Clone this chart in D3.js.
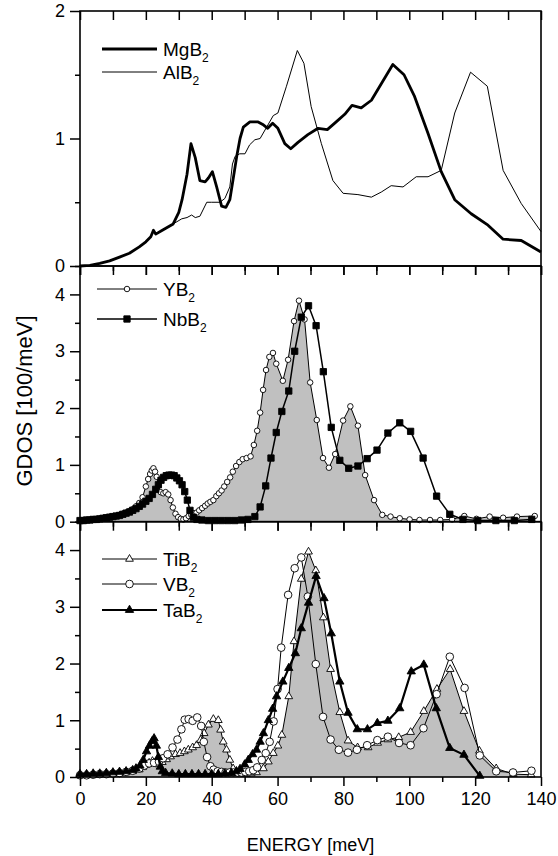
<!DOCTYPE html>
<html>
<head>
<meta charset="utf-8">
<script src="https://cdn.jsdelivr.net/npm/d3@7"></script>
<style>
  body { margin: 0; background: #fff; }
  text { font-family: "Liberation Sans", Arial, sans-serif; fill: #000; }
</style>
</head>
<body>
<script>
// energy [meV], GDOS pairs
var mgB2 = [[0,0],[3,0.005],[6,0.02],[9,0.04],[12,0.07],[15,0.1],[18,0.15],[20,0.19],[21.5,0.23],[22.3,0.28],[23,0.25],[25,0.28],[28.3,0.33],[30,0.42],[31,0.52],[32.5,0.72],[33.7,0.96],[35,0.85],[36.4,0.67],[38,0.66],[39,0.69],[40.2,0.74],[41.5,0.62],[43,0.47],[44.3,0.46],[45.5,0.52],[46.5,0.68],[47.6,0.86],[48.6,1.0],[49.6,1.09],[51.6,1.13],[54.1,1.13],[55.5,1.11],[57,1.08],[58.5,1.12],[60.1,1.08],[62.2,0.96],[64,0.92],[66.2,0.97],[69.2,1.03],[72.3,1.08],[75.1,1.07],[77.8,1.13],[80.4,1.19],[82.6,1.26],[85.4,1.24],[88.5,1.3],[91.5,1.43],[95,1.58],[98.4,1.5],[101.6,1.33],[105.7,1.04],[109.7,0.74],[113.8,0.52],[118.8,0.41],[123.9,0.32],[128.5,0.21],[134,0.2],[140,0.11]];
var alB2 = [[0,0],[3,0.005],[6,0.02],[9,0.04],[12,0.07],[15,0.1],[18,0.15],[20,0.19],[21.5,0.23],[22.3,0.27],[23,0.25],[25,0.28],[28.3,0.33],[30.9,0.37],[32.5,0.38],[33.9,0.4],[35,0.38],[36.4,0.39],[38.5,0.5],[40,0.5],[42.5,0.5],[44,0.53],[45.5,0.62],[46.3,0.8],[47.1,0.86],[48.5,0.88],[50.1,0.88],[51.5,0.95],[53.1,0.99],[54.7,1.0],[56.7,1.09],[58.7,1.18],[60.1,1.2],[62.7,1.41],[66,1.69],[68,1.59],[70.2,1.25],[73.3,0.96],[76.8,0.67],[79.9,0.57],[84.4,0.56],[88.5,0.54],[91.5,0.58],[94.5,0.63],[98.1,0.62],[102.1,0.7],[105.7,0.7],[109.7,0.75],[113.8,1.2],[118.6,1.52],[123.7,1.41],[128.5,0.75],[134,0.49],[140,0.27]];

var yB2 = [[0,0.02],[1,0.02],[2,0.03],[3,0.03],[4,0.04],[5,0.04],[6,0.05],[7,0.06],[8,0.07],[9,0.08],[10,0.09],[11,0.1],[12,0.12],[13,0.14],[14,0.16],[15,0.19],[16,0.22],[17,0.27],[18,0.33],[19,0.43],[20,0.62],[20.7,0.75],[21.3,0.84],[21.8,0.9],[22.3,0.94],[22.8,0.88],[23.3,0.79],[23.8,0.64],[24.5,0.52],[25.3,0.5],[26,0.52],[26.8,0.48],[27.5,0.38],[28.2,0.25],[29,0.14],[29.8,0.08],[30.6,0.05],[31.4,0.04],[32.2,0.06],[33,0.1],[33.8,0.12],[34.6,0.15],[35.4,0.16],[36.2,0.2],[37.1,0.24],[38,0.28],[38.8,0.32],[39.6,0.35],[40.5,0.38],[41.4,0.45],[42.2,0.5],[43,0.55],[43.8,0.62],[44.7,0.7],[45.6,0.78],[46.4,0.88],[47.4,0.98],[48.4,1.05],[49.4,1.1],[50.6,1.12],[51.8,1.15],[52.8,1.35],[53.8,1.6],[54.7,1.92],[55.6,2.32],[56.5,2.67],[57.5,2.9],[58.6,2.97],[59.6,2.78],[61.6,2.48],[63.2,2.85],[65,3.53],[66.5,3.89],[68.2,3.56],[69.9,2.45],[71.9,1.79],[73.8,1.12],[75.6,0.95],[77.5,1.19],[79.9,1.78],[82.1,2.03],[84.4,1.69],[86.6,0.82],[89.3,0.38],[91.8,0.12],[94.3,0.09],[97.1,0.06],[100.1,0.04],[103.1,0.03],[106.3,0.03],[109.4,0.03],[113,0.04],[116.7,0.1],[120.4,0.05],[124.4,0.09],[128.5,0.07],[132.7,0.09],[138.1,0.1]];
var nbB2 = [[0,0.02],[1,0.02],[2,0.03],[3,0.03],[4,0.04],[5,0.04],[6,0.05],[7,0.06],[8,0.07],[9,0.08],[10,0.09],[11,0.1],[12,0.11],[13,0.13],[14,0.15],[15,0.17],[16,0.2],[17,0.23],[18,0.27],[19,0.31],[20,0.36],[21,0.41],[22,0.48],[23,0.57],[23.8,0.65],[24.6,0.73],[25.4,0.78],[26.2,0.81],[27,0.82],[27.8,0.82],[28.6,0.81],[29.4,0.77],[30.2,0.72],[31,0.65],[31.8,0.53],[32.6,0.38],[33.4,0.2],[34.4,0.08],[35.5,0.04],[37,0.03],[39,0.02],[41,0.02],[43,0.02],[45,0.02],[47,0.02],[49,0.03],[51,0.04],[53.1,0.09],[54.7,0.26],[56.4,0.63],[58,1.12],[59.6,1.57],[61.3,1.94],[63.4,2.3],[65.2,3.0],[67.2,3.6],[69.4,3.8],[71.7,3.45],[73.9,2.64],[76.3,1.66],[78.9,1.08],[81.6,0.94],[84.4,0.98],[87.2,1.11],[90.2,1.26],[93.5,1.56],[97.1,1.74],[100.4,1.59],[104.2,1.12],[108.3,0.45],[112.3,0.13],[116.3,0.04],[120.8,0.02],[126.3,0.02],[131.9,0.02],[137.2,0.04]];

var tiB2 = [[0,0.03],[2,0.03],[4,0.04],[6,0.04],[8,0.05],[10,0.06],[12,0.07],[14,0.08],[16,0.1],[18,0.13],[19,0.17],[20,0.21],[21,0.25],[22,0.28],[23,0.25],[24,0.22],[25,0.26],[26.3,0.31],[27.5,0.36],[29,0.4],[30.4,0.42],[31.7,0.45],[32.9,0.48],[34.2,0.52],[35.4,0.56],[36.6,0.65],[37.7,0.77],[39,0.92],[40.5,1.02],[42,1.0],[42.7,0.83],[43.5,0.62],[44.5,0.48],[45.5,0.3],[46.5,0.15],[47.5,0.08],[49,0.06],[50.5,0.05],[52,0.06],[53.6,0.08],[55.7,0.15],[57.2,0.27],[58.7,0.42],[60.1,0.55],[61.3,0.74],[63.4,1.42],[65,2.39],[67.2,3.49],[69.4,3.97],[71.6,3.64],[73.9,2.81],[76.1,1.9],[78.9,1.14],[81.4,0.64],[84.3,0.52],[87.5,0.52],[90.4,0.6],[93.5,0.66],[96.8,0.7],[100.4,0.79],[104.4,1.16],[108.4,1.55],[112.4,1.9],[116.6,1.16],[121.3,0.46],[126.4,0.15],[131.6,0.05],[137,0.04]];
var vB2 = [[0,0.03],[2,0.03],[4,0.04],[6,0.05],[8,0.05],[10,0.06],[12,0.07],[14,0.09],[16,0.11],[18,0.15],[19.5,0.2],[21,0.24],[22.5,0.25],[24,0.27],[25.2,0.33],[26.6,0.4],[28.1,0.52],[29.6,0.66],[30.8,0.84],[31.8,1.01],[33,1.02],[34.2,0.99],[35.6,1.05],[36.8,0.9],[37.6,0.62],[38.6,0.35],[39.6,0.19],[40.6,0.13],[41.8,0.1],[43,0.09],[44.2,0.08],[45.4,0.08],[46.6,0.08],[47.8,0.08],[49,0.08],[50.2,0.09],[51.4,0.1],[52.6,0.12],[53.8,0.17],[55.2,0.3],[56.4,0.42],[57.6,0.62],[58.8,0.98],[60,1.55],[61.1,2.28],[63.2,3.21],[65.2,3.68],[67.2,3.87],[69.2,3.18],[71.6,1.99],[73.8,1.06],[76.1,0.66],[78.6,0.48],[81.4,0.43],[84.1,0.48],[87.2,0.56],[90.3,0.65],[93.5,0.71],[96.9,0.6],[100.4,0.56],[104.3,0.86],[108.3,1.46],[112.3,2.12],[116.8,1.57],[121.4,0.38],[126.4,0.1],[131.5,0.08],[137.1,0.11]];
var taB2 = [[0,0.05],[2,0.05],[4,0.06],[6,0.06],[8,0.07],[10,0.08],[12,0.09],[14,0.1],[16,0.12],[17,0.15],[18.2,0.2],[19.2,0.3],[20.2,0.45],[21.1,0.55],[21.9,0.63],[22.5,0.68],[23.2,0.55],[23.8,0.35],[24.4,0.18],[25,0.1],[26,0.07],[28,0.06],[30,0.05],[32,0.05],[34,0.05],[36,0.05],[38,0.05],[40,0.05],[42,0.05],[44,0.06],[46,0.07],[47.5,0.1],[48.6,0.14],[50,0.22],[51.1,0.3],[52.4,0.4],[53.6,0.48],[54.7,0.62],[55.7,0.77],[57.2,1.0],[58.5,1.2],[59.7,1.42],[61.6,1.68],[63.4,1.92],[65.4,2.18],[67.2,2.62],[69.4,3.07],[71.7,3.54],[74.1,3.15],[76.3,2.53],[78.9,1.68],[81.4,1.13],[84.2,0.84],[87.3,0.84],[90.3,0.95],[93.5,0.99],[97.1,1.21],[100.6,1.86],[104.4,1.98],[108.2,1.21],[112.3,0.51],[116.6,0.39],[121.4,0.02]];

var xTicks = [0, 20, 40, 60, 80, 100, 120, 140];
var xMinor = [10, 30, 50, 70, 90, 110, 130];
var yTicksTop = [0, 1, 2];
var yTicksLow = [0, 1, 2, 3, 4];

var width = 558, height = 856;
var svg = d3.select('body').append('svg')
    .attr('width', width)
    .attr('height', height);

var x = d3.scaleLinear().domain([0, 140]).range([80, 541]);

var panels = [
  { top: 11, bottom: 266, max: 2, ticks: yTicksTop },
  { top: 266, bottom: 521.7, max: 4.5, ticks: yTicksLow },
  { top: 521.7, bottom: 777, max: 4.5, ticks: yTicksLow }
];
panels.forEach(function(p) {
  p.y = d3.scaleLinear().domain([0, p.max]).range([p.bottom, p.top]);
});

// draw one series: optional grey fill, line, markers
function series(p, data, opt) {
  var g = svg.append('g');
  if (opt.fill) {
    g.append('path')
      .datum(data)
      .attr('fill', '#c0c0c0')
      .attr('d', d3.area()
        .x(function(d) { return x(d[0]); })
        .y0(p.y(0))
        .y1(function(d) { return p.y(d[1]); }));
  }
  g.append('path')
    .datum(data)
    .attr('fill', 'none')
    .attr('stroke', '#000')
    .attr('stroke-width', opt.lw)
    .attr('stroke-linejoin', 'round')
    .attr('d', d3.line()
      .x(function(d) { return x(d[0]); })
      .y(function(d) { return p.y(d[1]); }));
  if (opt.symbol) {
    g.selectAll('.m')
      .data(data)
      .enter().append('path')
      .attr('class', 'm')
      .attr('transform', function(d) { return 'translate(' + x(d[0]) + ',' + p.y(d[1]) + ')'; })
      .attr('d', d3.symbol().type(opt.symbol).size(opt.size))
      .attr('fill', opt.filled ? '#000' : '#fff')
      .attr('stroke', '#000')
      .attr('stroke-width', 0.9);
  }
}

// panel 1
series(panels[0], alB2, { lw: 1 });
series(panels[0], mgB2, { lw: 2.8 });
// panel 2
series(panels[1], yB2, { lw: 1, fill: true, symbol: d3.symbolCircle, size: 24 });
series(panels[1], nbB2, { lw: 1.5, symbol: d3.symbolSquare, size: 40, filled: true });
// panel 3
series(panels[2], tiB2, { lw: 1, fill: true, symbol: d3.symbolTriangle, size: 26 });
series(panels[2], vB2, { lw: 1, symbol: d3.symbolCircle, size: 46 });
series(panels[2], taB2, { lw: 2.2, symbol: d3.symbolTriangle, size: 30, filled: true });

// axes and frames
panels.forEach(function(p, i) {
  var minorY = d3.range(0.5, p.max + 0.01, 1);
  svg.append('g')
    .attr('transform', 'translate(80,0)')
    .call(d3.axisLeft(p.y).tickValues(p.ticks).tickSize(10).tickSizeOuter(0).tickPadding(5).tickFormat(d3.format('d')))
    .call(function(a) {
      a.select('.domain').remove();
      a.selectAll('line').attr('stroke-width', 1.5);
      a.selectAll('text').attr('font-size', 18).attr('font-family', '"Liberation Sans", Arial, sans-serif');
    });
  svg.append('g')
    .attr('transform', 'translate(80,0)')
    .call(d3.axisLeft(p.y).tickValues(minorY).tickSize(5).tickFormat(''))
    .call(function(a) {
      a.select('.domain').remove();
      a.selectAll('line').attr('stroke-width', 1.5);
    });
  // top ticks point inward
  svg.append('g')
    .attr('transform', 'translate(0,' + p.top + ')')
    .call(d3.axisTop(x).tickValues(xTicks.concat(xMinor)).tickSize(-9).tickFormat(''))
    .call(function(a) {
      a.select('.domain').remove();
      a.selectAll('line').attr('stroke-width', 1.5);
    });
  // bottom ticks point outward
  svg.append('g')
    .attr('transform', 'translate(0,' + p.bottom + ')')
    .call(d3.axisBottom(x).tickValues(xTicks).tickSize(9).tickPadding(6)
      .tickFormat(i === 2 ? d3.format('d') : ''))
    .call(function(a) {
      a.select('.domain').remove();
      a.selectAll('line').attr('stroke-width', 1.5);
      a.selectAll('text').attr('font-size', 18).attr('font-family', '"Liberation Sans", Arial, sans-serif');
    });
  svg.append('g')
    .attr('transform', 'translate(0,' + p.bottom + ')')
    .call(d3.axisBottom(x).tickValues(xMinor).tickSize(5).tickFormat(''))
    .call(function(a) {
      a.select('.domain').remove();
      a.selectAll('line').attr('stroke-width', 1.5);
    });
  svg.append('rect')
    .attr('x', x(0)).attr('y', p.top)
    .attr('width', x(140) - x(0)).attr('height', p.bottom - p.top)
    .attr('fill', 'none').attr('stroke', '#000').attr('stroke-width', 1.6);
});

// axis titles
svg.append('text')
  .attr('x', x(70)).attr('y', 851)
  .attr('text-anchor', 'middle').attr('font-size', 18)
  .text('ENERGY [meV]');
svg.append('text')
  .attr('transform', 'translate(32,401) rotate(-90)')
  .attr('text-anchor', 'middle').attr('font-size', 22)
  .text('GDOS [100/meV]');

// legends
function legendItem(ly, name, opt) {
  svg.append('line')
    .attr('x1', opt.x1).attr('x2', 157).attr('y1', ly).attr('y2', ly)
    .attr('stroke', '#000').attr('stroke-width', opt.lw);
  if (opt.symbol) {
    svg.append('path')
      .attr('transform', 'translate(' + ((opt.x1 + 157) / 2) + ',' + ly + ')')
      .attr('d', d3.symbol().type(opt.symbol).size(opt.size))
      .attr('fill', opt.filled ? '#000' : '#fff')
      .attr('stroke', '#000').attr('stroke-width', 0.9);
  }
  var t = svg.append('text')
    .attr('x', 163).attr('y', ly + 7)
    .attr('font-size', 19);
  t.append('tspan').text(name);
  t.append('tspan').attr('font-size', 12).attr('dy', 6).text('2');
}
legendItem(49, 'MgB', { x1: 102, lw: 2.8 });
legendItem(72, 'AlB', { x1: 102, lw: 1 });
legendItem(289, 'YB', { x1: 97, lw: 1, symbol: d3.symbolCircle, size: 24 });
legendItem(319, 'NbB', { x1: 97, lw: 1.5, symbol: d3.symbolSquare, size: 40, filled: true });
legendItem(559, 'TiB', { x1: 102, lw: 1, symbol: d3.symbolTriangle, size: 26 });
legendItem(584, 'VB', { x1: 102, lw: 1, symbol: d3.symbolCircle, size: 46 });
legendItem(610, 'TaB', { x1: 102, lw: 2.2, symbol: d3.symbolTriangle, size: 30, filled: true });
</script>
</body>
</html>
